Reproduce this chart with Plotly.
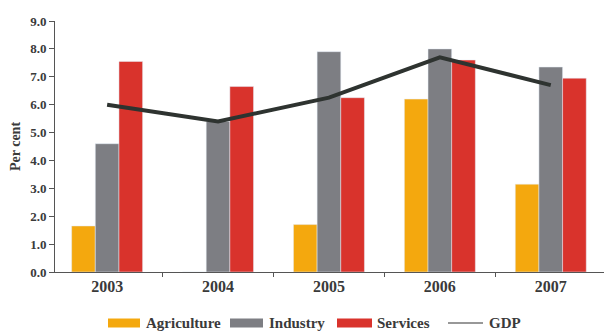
import plotly.graph_objects as go

years = ["2003", "2004", "2005", "2006", "2007"]
agriculture = [1.65, 0.0, 1.7, 6.2, 3.15]
industry = [4.6, 5.4, 7.9, 8.0, 7.35]
services = [7.55, 6.65, 6.25, 7.6, 6.95]
gdp = [6.0, 5.4, 6.25, 7.7, 6.7]

series_names = ["Agriculture", "Industry", "Services", "GDP"]
series_colors = ["#F4A80E", "#7D7E83", "#D9332C", "#2E3330"]

serif = "Liberation Serif"
text_color = "#3a3a3a"

W, H = 604, 332
ML, MR, MT, MB = 55, 0, 21, 60
PW, PH = W - ML - MR, H - MT - MB


def px_x(x):
    return (x - ML) / PW


def px_y(y):
    return (H - MB - y) / PH


fig = go.Figure()
for name, vals, col in zip(series_names[:3], [agriculture, industry, services], series_colors[:3]):
    fig.add_trace(go.Bar(x=years, y=vals, name=name, marker_color=col, showlegend=False))
fig.add_trace(go.Scatter(x=years, y=gdp, name="GDP", mode="lines",
                         line=dict(color=series_colors[3], width=4), showlegend=False))

# legend row below the axis: wide swatches for bars, thin rule for the line
legend_items = [(108, 140, 144), (230, 263, 267), (337, 372, 375), (448, 483, 487)]
shapes, annotations = [], []
yc = 323
for i, (x0, x1, tx) in enumerate(legend_items):
    if i < 3:
        shapes.append(dict(type="rect", xref="paper", yref="paper",
                           x0=px_x(x0), x1=px_x(x1), y0=px_y(yc + 4.5), y1=px_y(yc - 4.5),
                           fillcolor=series_colors[i], line=dict(width=0)))
    else:
        shapes.append(dict(type="line", xref="paper", yref="paper",
                           x0=px_x(x0), x1=px_x(x1), y0=px_y(yc), y1=px_y(yc),
                           line=dict(color="#333", width=1.2)))
    annotations.append(dict(text=series_names[i], xref="paper", yref="paper",
                            x=px_x(tx), y=px_y(yc), xanchor="left", yanchor="middle",
                            showarrow=False,
                            font=dict(family=serif, size=15, color=text_color, weight="bold")))

fig.update_layout(
    width=W, height=H,
    margin=dict(l=ML, r=MR, t=MT, b=MB),
    paper_bgcolor="white", plot_bgcolor="white",
    barmode="group", bargap=0.36, bargroupgap=0,
    font=dict(family=serif, color=text_color),
    showlegend=False,
    shapes=shapes, annotations=annotations,
)
fig.update_xaxes(
    type="category", range=[-0.47, 4.48],
    showline=True, linecolor="#555", linewidth=1,
    ticks="outside", tickson="boundaries", ticklen=4, tickcolor="#555",
    tickfont=dict(family=serif, size=16, color=text_color, weight="bold"),
    showgrid=False,
)
fig.update_yaxes(
    range=[0, 9], dtick=1, tickformat=".1f",
    showline=True, linecolor="#555", linewidth=1,
    ticks="outside", ticklen=5, tickcolor="#555",
    tickfont=dict(family=serif, size=13, color=text_color, weight="bold"),
    showgrid=False, zeroline=False,
    title=dict(text="Per cent", font=dict(family=serif, size=14, color=text_color, weight="bold"),
               standoff=6),
)

fig.write_html("out.html")
